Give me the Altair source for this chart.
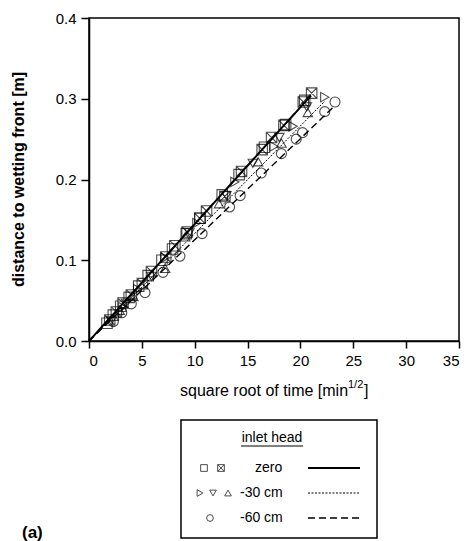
import altair as alt
import pandas as pd

# ---------------- data ----------------
# inlet head zero: open squares and crossed squares
zero_a_x = [20.4, 18.6, 16.6, 14.2, 12.6, 10.5, 9.2, 7.9, 6.9, 5.6, 4.7, 3.8, 3.0, 2.3, 1.7]
zero_a_y = [0.298, 0.268, 0.240, 0.206, 0.181, 0.152, 0.133, 0.114, 0.100, 0.081, 0.068, 0.054, 0.043, 0.032, 0.022]
zero_b_x = [21.06, 20.27, 18.44, 17.27, 16.38, 14.43, 12.85, 11.12, 10.48, 9.28, 8.12, 7.26, 5.91, 5.05, 4.01, 3.22, 2.59, 1.96]
zero_b_y = [0.307, 0.296, 0.267, 0.252, 0.237, 0.210, 0.179, 0.161, 0.152, 0.135, 0.118, 0.104, 0.086, 0.071, 0.057, 0.047, 0.036, 0.026]
# inlet head -30 cm: three replicates (right, down, up triangles)
m30_r_x = [22.3, 19.3, 17.5, 13.8, 10.2, 7.2, 4.6, 3.2]
m30_r_y = [0.302, 0.266, 0.241, 0.197, 0.146, 0.103, 0.064, 0.042]
m30_d_x = [20.6, 18.0, 15.5, 13.0, 9.5, 5.9, 3.5, 2.1]
m30_d_y = [0.290, 0.252, 0.220, 0.180, 0.134, 0.080, 0.047, 0.025]
m30_u_x = [20.7, 18.2, 16.0, 12.3, 9.1, 7.2, 4.2, 2.9]
m30_u_y = [0.283, 0.245, 0.222, 0.170, 0.129, 0.090, 0.055, 0.038]
# inlet head -60 cm: circles
m60_x = [23.27, 22.3, 20.2, 19.6, 18.2, 16.3, 14.3, 13.3, 10.7, 8.6, 7.0, 5.3, 4.0, 3.1, 2.3]
m60_y = [0.296, 0.284, 0.258, 0.250, 0.232, 0.208, 0.180, 0.166, 0.133, 0.105, 0.085, 0.060, 0.046, 0.035, 0.024]
# fitted lines
line_zero_x = [0, 21.0]
line_zero_y = [0, 0.304]
line_m30_x = [0, 22.3]
line_m30_y = [0, 0.297]
line_m60_x = [0, 23.3]
line_m60_y = [0, 0.292]

x_ticks = [0, 5, 10, 15, 20, 25, 30, 35]
y_ticks = [0.0, 0.1, 0.2, 0.3, 0.4]

FONT = "Liberation Sans"
BOX_X = "M-1,-1L1,-1L1,1L-1,1Z M-1,-1L1,1 M1,-1L-1,1"


def df(xs, ys):
    return pd.DataFrame({"t": xs, "d": ys})


X = alt.X("t:Q", scale=alt.Scale(domain=[0, 35], nice=False, zero=False),
          axis=alt.Axis(values=x_ticks, title=None, format="d", grid=False,
                        tickSize=7, labelPadding=5, labelFontSize=15, labelFont=FONT,
                        domainColor="black", tickColor="black", labelColor="black",
                        domainWidth=1.5, tickWidth=1.5))
Y = alt.Y("d:Q", scale=alt.Scale(domain=[0, 0.4], nice=False),
          axis=alt.Axis(values=y_ticks, format=".1f", grid=False, title="distance to wetting front [m]",
                        tickSize=8, labelPadding=5, labelFontSize=15, labelFont=FONT,
                        titleFont=FONT, titleFontSize=16, titleFontWeight="bold", titleColor="black",
                        titleX=-71, titleY=161, titleAngle=-90, titleBaseline="middle", titleAlign="center",
                        domainColor="black", tickColor="black", labelColor="black",
                        domainWidth=1.5, tickWidth=1.5))


def pts(xs, ys, shape, size=110):
    return alt.Chart(df(xs, ys)).mark_point(shape=shape, filled=False, color="black",
                                            strokeWidth=1.1, size=size, clip=False).encode(x=X, y=Y)


def line(xs, ys, dash, width):
    return alt.Chart(df(xs, ys)).mark_line(color="black", strokeWidth=width,
                                           strokeDash=dash).encode(x=X, y=Y)


one = pd.DataFrame({"k": [0]})


def txt(s, x, y, size=15, weight="normal", align="left", dy=0):
    return alt.Chart(one).mark_text(text=s, font=FONT, fontSize=size, fontWeight=weight,
                                    align=align, baseline="middle", color="black", dy=dy).encode(
        x=alt.value(x), y=alt.value(y))


def sym(shape, x, y, size=45):
    return alt.Chart(one).mark_point(shape=shape, filled=False, color="black",
                                     strokeWidth=1, size=size).encode(x=alt.value(x), y=alt.value(y))


def hrule(x1, x2, y, dash, width):
    return alt.Chart(one).mark_rule(color="black", strokeWidth=width, strokeDash=dash).encode(
        x=alt.value(x1), x2=alt.value(x2), y=alt.value(y))


layers = [
    line(line_zero_x, line_zero_y, [1, 0], 2.0),
    line(line_m30_x, line_m30_y, [2, 1.5], 1.0),
    line(line_m60_x, line_m60_y, [7, 4], 1.4),
    pts(zero_a_x, zero_a_y, "square"),
    pts(zero_b_x, zero_b_y, BOX_X),
    pts(m30_r_x, m30_r_y, "triangle-right", 90),
    pts(m30_d_x, m30_d_y, "triangle-down", 90),
    pts(m30_u_x, m30_u_y, "triangle-up", 90),
    pts(m60_x, m60_y, "circle", 100),
    # x-axis title with superscript
    txt("square root of time [min", 91, 373, size=16),
    txt("1/2", 259, 373, size=11, dy=-6),
    txt("]", 275, 373, size=16),
    # legend box
    alt.Chart(one).mark_rect(fill="white", stroke="black", strokeWidth=1.5).encode(
        x=alt.value(92), x2=alt.value(288), y=alt.value(402), y2=alt.value(520)),
    txt("inlet head", 183, 420, size=14, align="center"),
    hrule(152, 214, 428, [1, 0], 1),
    sym("square", 115, 450),
    sym(BOX_X, 132, 450),
    txt("zero", 166, 450, size=14),
    hrule(219, 271, 450, [1, 0], 2),
    sym("triangle-right", 111, 475),
    sym("triangle-down", 124, 475),
    sym("triangle-up", 139, 475),
    txt("-30 cm", 151, 475, size=14),
    hrule(219, 271, 475, [2, 1.5], 1),
    sym("circle", 121, 500),
    txt("-60 cm", 151, 500, size=14),
    hrule(219, 271, 500, [7, 4], 1.4),
    txt("(a)", -67, 515, size=17, weight="bold"),
]

chart = alt.layer(*layers).properties(
    width=370, height=323,
    autosize=alt.AutoSizeParams(type="none"),
    padding={"left": 89, "top": 18, "right": 11, "bottom": 200},
    background="white",
).configure_view(stroke="black", strokeWidth=1.5)

chart.save("out.html", embed_options={"renderer": "svg", "actions": False})
